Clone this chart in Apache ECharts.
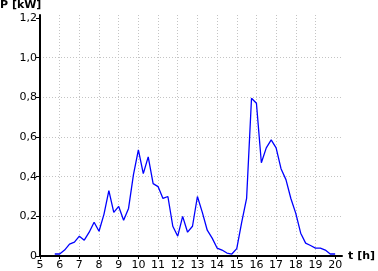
<!DOCTYPE html>
<html>
<head>
<meta charset="utf-8">
<script src="https://cdn.jsdelivr.net/npm/echarts@6/dist/echarts.min.js"></script>
<style>html,body{margin:0;padding:0;background:#fff}#c{width:378px;height:271px}</style>
</head>
<body>
<div id="c"></div>
<script>
const times = [5.75,6.0,6.25,6.5,6.75,7.0,7.25,7.5,7.75,8.0,8.25,8.5,8.75,9.0,9.25,9.5,9.75,10.0,10.25,10.5,10.75,11.0,11.25,11.5,11.75,12.0,12.25,12.5,12.75,13.0,13.25,13.5,13.75,14.0,14.25,14.5,14.75,15.0,15.25,15.5,15.75,16.0,16.25,16.5,16.75,17.0,17.25,17.5,17.75,18.0,18.25,18.5,18.75,19.0,19.25,19.5,19.75,20.0];
const power = [0.01,0.01,0.03,0.06,0.07,0.10,0.08,0.12,0.17,0.125,0.21,0.33,0.22,0.25,0.18,0.24,0.41,0.535,0.415,0.50,0.365,0.35,0.29,0.30,0.15,0.10,0.20,0.12,0.15,0.30,0.22,0.13,0.09,0.04,0.03,0.015,0.01,0.037,0.17,0.29,0.795,0.77,0.47,0.545,0.585,0.545,0.44,0.385,0.29,0.215,0.115,0.065,0.053,0.04,0.04,0.03,0.01,0.01];
const xTicks = [5,6,7,8,9,10,11,12,13,14,15,16,17,18,19,20];
const yTicks = [0,0.2,0.4,0.6,0.8,1.0,1.2];
const yTickLabels = ['0','0,2','0,4','0,6','0,8','1,0','1,2'];

const font = 'DejaVu Sans';
const chart = echarts.init(document.getElementById('c'), null, {renderer:'canvas'});
chart.setOption({
  animation:false,
  backgroundColor:'#fff',
  title:{text:'P [kW]', left:0, top:0, padding:0,
    textStyle:{fontFamily:font, fontSize:11, fontWeight:'bold', color:'#000'}},
  grid:{left:40, top:15, right:31, bottom:13, containLabel:false},
  xAxis:{type:'value', min:5, max:20.35, interval:1,
    name:'t [h]', nameLocation:'end', nameGap:6,
    nameTextStyle:{fontFamily:font, fontSize:11, fontWeight:'bold', color:'#000', verticalAlign:'middle'},
    axisLine:{lineStyle:{color:'#000', width:2}},
    axisTick:{show:true, length:3, customValues:xTicks, lineStyle:{color:'#000'}},
    axisLabel:{customValues:xTicks, margin:4, fontFamily:font, fontSize:11, color:'#000'},
    splitLine:{show:true, showMinLine:false, showMaxLine:false, lineStyle:{color:'#c4c4c4', type:[1,2], width:1}}
  },
  yAxis:{type:'value', min:0, max:1.215, interval:0.2,
    axisLine:{show:true, lineStyle:{color:'#000', width:2}},
    axisTick:{show:true, length:4, customValues:yTicks, lineStyle:{color:'#000'}},
    axisLabel:{customValues:yTicks, margin:3, fontFamily:font, fontSize:11, color:'#000',
      formatter:function(v){const i=yTicks.findIndex(t=>Math.abs(t-v)<1e-6);return i>=0?yTickLabels[i]:'';}},
    splitLine:{show:true, showMinLine:false, showMaxLine:false, lineStyle:{color:'#c4c4c4', type:[1,2], width:1}}
  },
  series:[{type:'line', data:times.map((t,i)=>[t,power[i]]), showSymbol:false, symbol:'none',
    lineStyle:{color:'#0000ff', width:1.3}, smooth:false}]
});
</script>
</body>
</html>
